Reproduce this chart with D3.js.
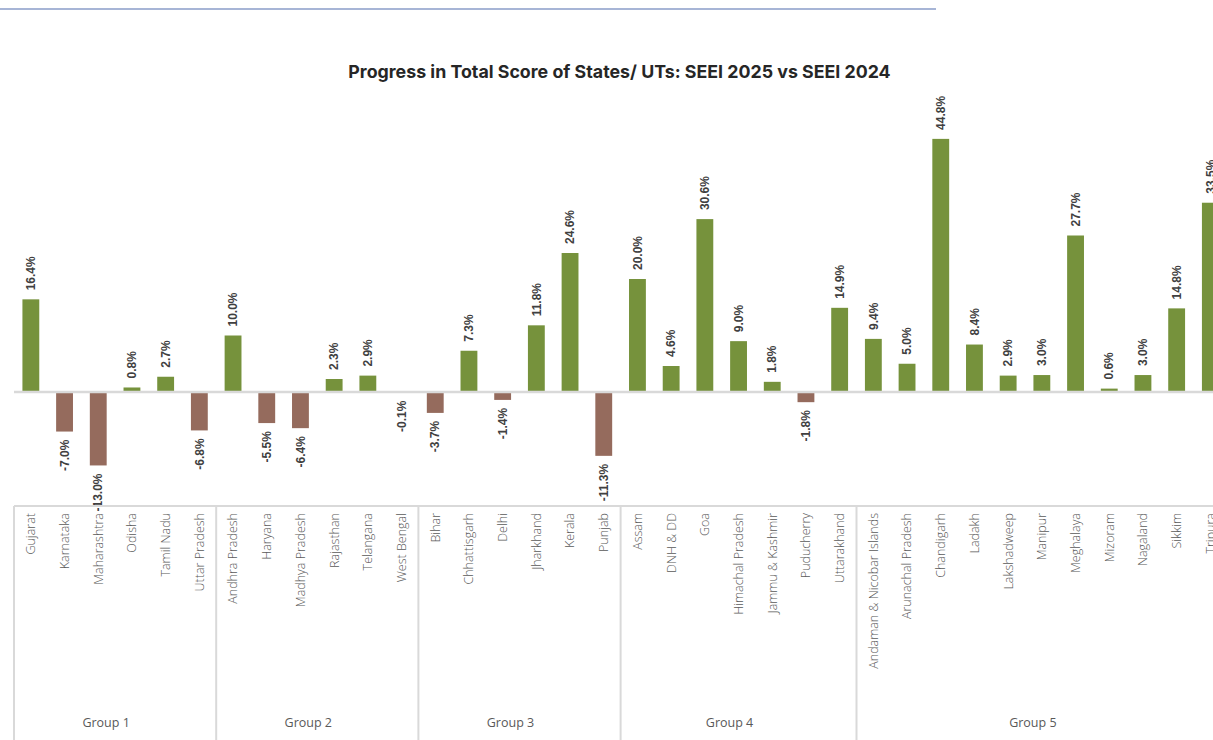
<!DOCTYPE html>
<html>
<head>
<meta charset="utf-8">
<script src="https://cdn.jsdelivr.net/npm/d3@7"></script>
<style>
  html, body { margin: 0; padding: 0; background: #ffffff; overflow: hidden; }
  svg { display: block; }
</style>
</head>
<body>
<svg id="chart" width="1213" height="740"></svg>
<script>
const groups = ["Group 1", "Group 2", "Group 3", "Group 4", "Group 5"];
const group1 = ["Gujarat", "Karnataka", "Maharashtra", "Odisha", "Tamil Nadu", "Uttar Pradesh"];
const group2 = ["Andhra Pradesh", "Haryana", "Madhya Pradesh", "Rajasthan", "Telangana", "West Bengal"];
const group3 = ["Bihar", "Chhattisgarh", "Delhi", "Jharkhand", "Kerala", "Punjab"];
const group4 = ["Assam", "DNH & DD", "Goa", "Himachal Pradesh", "Jammu & Kashmir", "Puducherry", "Uttarakhand"];
const group5 = ["Andaman & Nicobar Islands", "Arunachal Pradesh", "Chandigarh", "Ladakh", "Lakshadweep", "Manipur", "Meghalaya", "Mizoram", "Nagaland", "Sikkim", "Tripura"];

const values1 = [16.4, -7.0, -13.0, 0.8, 2.7, -6.8];
const values2 = [10.0, -5.5, -6.4, 2.3, 2.9, -0.1];
const values3 = [-3.7, 7.3, -1.4, 11.8, 24.6, -11.3];
const values4 = [20.0, 4.6, 30.6, 9.0, 1.8, -1.8, 14.9];
const values5 = [9.4, 5.0, 44.8, 8.4, 2.9, 3.0, 27.7, 0.6, 3.0, 14.8, 33.5];

const title = "Progress in Total Score of States/ UTs: SEEI 2025 vs SEEI 2024";

const groupStates = [group1, group2, group3, group4, group5];
const groupValues = [values1, values2, values3, values4, values5];
const data = [];
groupStates.forEach((st, gi) => st.forEach((s, i) => data.push({ state: s, value: groupValues[gi][i], group: groups[gi] })));

const svg = d3.select("#chart");
const W = 1213, H = 740;
const step = 33.7, left = 14;
const x = d3.scaleBand().domain(data.map(d => d.state)).range([left, left + step * data.length]).paddingInner(0.5).paddingOuter(0.25);
const y = d3.scaleLinear().domain([-20, 50]).range([505, 109.5]);

const GREEN = "#76923c", BROWN = "#956b5d";

// top decorative line
svg.append("line").attr("x1", 0).attr("x2", 936).attr("y1", 9).attr("y2", 9)
  .attr("stroke", "#8a9cc8").attr("stroke-width", 1.6);

// title
svg.append("text").attr("x", 619.5).attr("y", 78).attr("text-anchor", "middle")
  .attr("font-family", "Inter, 'Open Sans', sans-serif").attr("font-weight", 700)
  .attr("font-size", 17.8).attr("fill", "#262626").text(title);

// bars
svg.append("g").selectAll("rect").data(data).join("rect")
  .attr("x", d => x(d.state))
  .attr("width", x.bandwidth())
  .attr("y", d => d.value >= 0 ? y(d.value) : y(0) + 1)
  .attr("height", d => d.value >= 0 ? Math.max(0, y(0) - y(d.value) - 1) : Math.max(0, y(d.value) - y(0) - 1))
  .attr("fill", d => d.value >= 0 ? GREEN : BROWN);

// zero line
svg.append("line").attr("x1", left).attr("x2", W).attr("y1", y(0)).attr("y2", y(0))
  .attr("stroke", "#d9d9d9").attr("stroke-width", 2.5);

// value labels
svg.append("g").selectAll("text").data(data).join("text")
  .attr("transform", d => {
    const cx = x(d.state) + x.bandwidth() / 2;
    const cy = d.value >= 0 ? y(d.value) - 9 : y(d.value) + 8;
    return `translate(${cx},${cy}) rotate(-90)`;
  })
  .attr("dy", "0.35em")
  .attr("text-anchor", d => d.value >= 0 ? "start" : "end")
  .attr("font-family", "'Liberation Sans', Arial, sans-serif").attr("font-weight", 700)
  .attr("font-size", 12).attr("fill", "#404040")
  .text(d => d.value.toFixed(1) + "%");

// category axis
const axisTop = 506;
const axisG = svg.append("g").attr("transform", `translate(0,${axisTop})`)
  .call(d3.axisBottom(x).tickSize(0).tickPadding(0));
axisG.select(".domain").remove();
axisG.selectAll(".tick text")
  .attr("transform", "rotate(-90)")
  .attr("x", -7).attr("y", 0).attr("dy", "0.35em")
  .attr("text-anchor", "end")
  .attr("font-family", "'Open Sans', sans-serif").attr("font-weight", 300)
  .attr("font-size", 12.5).attr("fill", "#595959");

// group box
svg.append("line").attr("x1", left).attr("x2", W).attr("y1", axisTop).attr("y2", axisTop)
  .attr("stroke", "#d9d9d9").attr("stroke-width", 2);
const bounds = [];
groupStates.forEach((st, gi) => {
  const first = st[0], last = st[st.length - 1];
  bounds.push({ g: groups[gi], x0: x(first) - x.bandwidth() / 2, x1: x(last) + x.bandwidth() * 1.5 });
});
bounds.forEach((b, i) => {
  svg.append("line").attr("x1", b.x0).attr("x2", b.x0).attr("y1", axisTop).attr("y2", H)
    .attr("stroke", "#d9d9d9").attr("stroke-width", 2);
  svg.append("text").attr("x", (b.x0 + b.x1) / 2 - 9).attr("y", 727).attr("text-anchor", "middle")
    .attr("font-family", "'Open Sans', sans-serif").attr("font-weight", 400)
    .attr("font-size", 12.5).attr("fill", "#595959").text(b.g);
});
</script>
</body>
</html>
